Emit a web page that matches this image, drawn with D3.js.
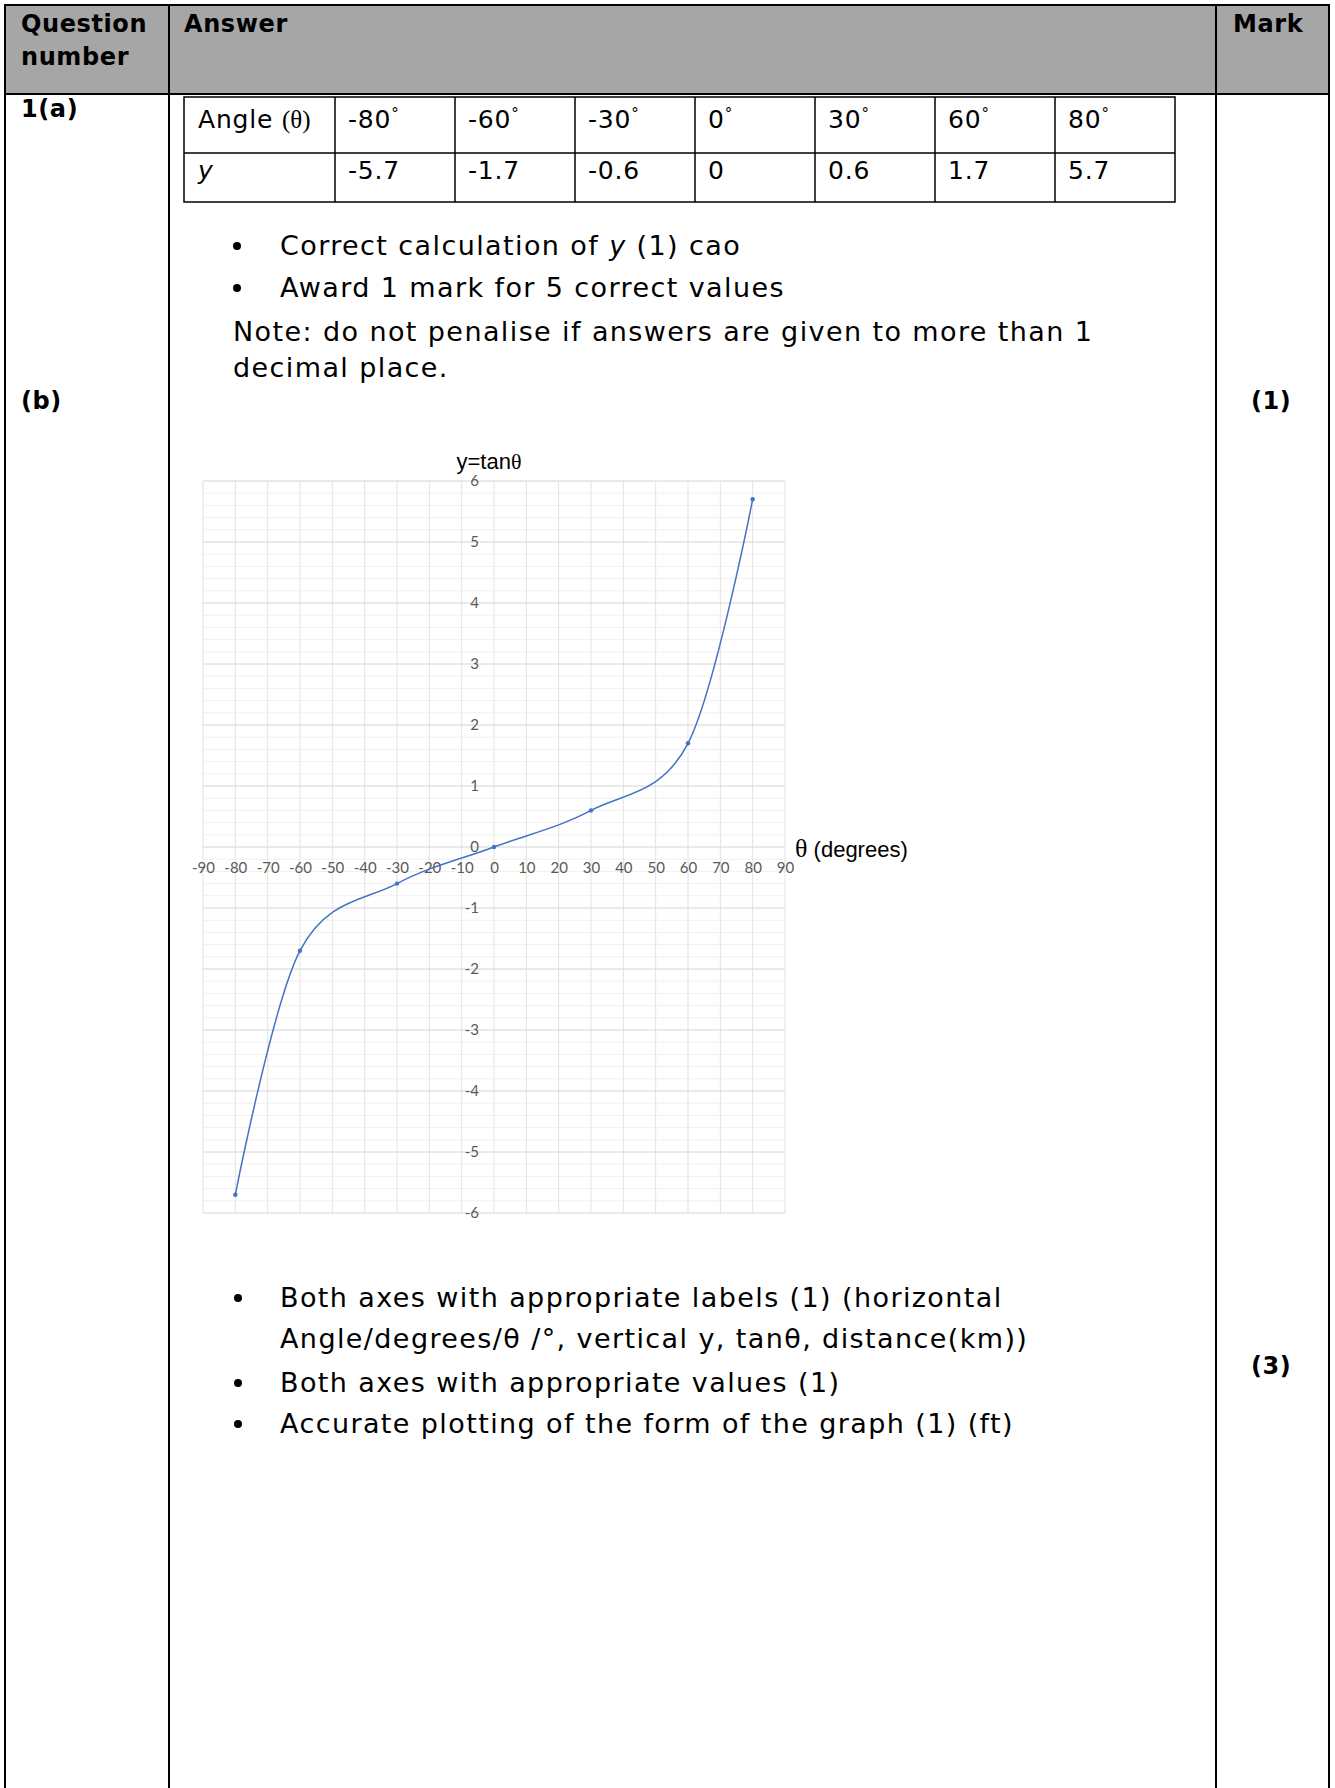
<!DOCTYPE html>
<html>
<head>
<meta charset="utf-8">
<script src="https://cdn.jsdelivr.net/npm/d3@7"></script>
<style>
  body { margin: 0; background: #fff; }
  svg text { font-family: "DejaVu Sans", Verdana, sans-serif; fill: #000; }
  .body { font-size: 27px; letter-spacing: 1.4px; }
  .cell { font-size: 25px; letter-spacing: 0.8px; }
  .bold { font-weight: bold; font-size: 24px; letter-spacing: 0.6px; }
  .tick text { font-family: Lato, "Open Sans", sans-serif; font-size: 15px; fill: #595959; }
</style>
</head>
<body>
<div id="page"></div>
<script>
// table + graph data
const angles = [-80, -60, -30, 0, 30, 60, 80];
const yValues = [-5.7, -1.7, -0.6, 0, 0.6, 1.7, 5.7];
const xTicks = d3.range(-90, 91, 10);
const yTicks = d3.range(-6, 7, 1);

const W = 1335, H = 1788;
const svg = d3.select("#page").append("svg")
    .attr("width", W).attr("height", H);

// ---- outer mark-scheme table ----
const colX = [5, 169, 1216, 1329];
svg.append("rect")
    .attr("x", colX[0]).attr("y", 5)
    .attr("width", colX[3] - colX[0]).attr("height", 89)
    .attr("fill", "#a6a6a6");

svg.append("line").attr("x1", colX[0] - 1).attr("x2", colX[3] + 1)
    .attr("y1", 5).attr("y2", 5).attr("stroke", "#000").attr("stroke-width", 2);
svg.append("line").attr("x1", colX[0]).attr("x2", colX[3])
    .attr("y1", 94).attr("y2", 94).attr("stroke", "#000").attr("stroke-width", 2);
colX.forEach(x => {
    svg.append("line").attr("x1", x).attr("x2", x)
        .attr("y1", 4).attr("y2", H).attr("stroke", "#000").attr("stroke-width", 2);
});

function txt(x, y, s, cls) {
    return svg.append("text").attr("x", x).attr("y", y).attr("class", cls || "body").text(s);
}

// header
txt(21, 32, "Question", "bold");
txt(21, 65, "number", "bold");
txt(184, 32, "Answer", "bold");
txt(1233, 32, "Mark", "bold");

// question numbers + marks
txt(21, 117, "1(a)", "bold");
txt(21, 409, "(b)", "bold");
txt(1251, 409, "(1)", "bold");
txt(1251, 1374, "(3)", "bold");

// ---- 1(a) values table ----
const cellX = [184, 335, 455, 575, 695, 815, 935, 1055, 1175];
const rowY = [97, 153, 202];
const t = svg.append("g");
t.append("rect").attr("x", cellX[0]).attr("y", rowY[0])
    .attr("width", cellX[8] - cellX[0]).attr("height", rowY[2] - rowY[0])
    .attr("fill", "none").attr("stroke", "#000").attr("stroke-width", 1.5);
t.append("line").attr("x1", cellX[0]).attr("x2", cellX[8])
    .attr("y1", rowY[1]).attr("y2", rowY[1]).attr("stroke", "#000").attr("stroke-width", 1.5);
cellX.slice(1, 8).forEach(x => {
    t.append("line").attr("x1", x).attr("x2", x).attr("y1", rowY[0]).attr("y2", rowY[2])
        .attr("stroke", "#000").attr("stroke-width", 1.5);
});

const angleLbl = txt(cellX[0] + 14, 128, "Angle ", "cell");
angleLbl.append("tspan").style("font-family", "'Liberation Serif', serif").style("letter-spacing", "0").text("(θ)");
txt(cellX[0] + 14, 179, "y", "cell").style("font-style", "italic");

angles.forEach((a, i) => {
    const c = txt(cellX[i + 1] + 13, 128, String(a), "cell");
    c.append("tspan").attr("dy", -9).style("font-size", "15px").text("°");
});
yValues.forEach((v, i) => txt(cellX[i + 1] + 13, 179, String(v), "cell"));

// ---- bullets for (a) ----
function bullet(y, parts) {
    svg.append("circle").attr("cx", 237).attr("cy", y - 9).attr("r", 4).attr("fill", "#000");
    const el = txt(280, y, "");
    parts.forEach(p => {
        const ts = el.append("tspan").text(p[0]);
        if (p[1]) ts.style("font-style", "italic");
    });
}
bullet(255, [["Correct calculation of "], ["y", true], [" (1) cao"]]);
bullet(297, [["Award 1 mark for 5 correct values"]]);
txt(233, 341, "Note: do not penalise if answers are given to more than 1");
txt(233, 377, "decimal place.");

// ---- graph y = tan θ ----
const x = d3.scaleLinear().domain([-90, 90]).range([203, 785]);
const y = d3.scaleLinear().domain([-6, 6]).range([1213, 481]);
const g = svg.append("g");

// minor horizontal grid
g.selectAll(".minor").data(d3.range(-30, 31).map(d => d / 5))
    .join("line")
    .attr("x1", x(-90)).attr("x2", x(90))
    .attr("y1", d => y(d)).attr("y2", d => y(d))
    .attr("stroke", "#f0f0f0").attr("stroke-width", 1);
// vertical grid
g.selectAll(".vgrid").data(xTicks)
    .join("line")
    .attr("x1", d => x(d)).attr("x2", d => x(d))
    .attr("y1", y(6)).attr("y2", y(-6))
    .attr("stroke", "#e3e3e3").attr("stroke-width", 1);
// major horizontal grid
g.selectAll(".hgrid").data(yTicks)
    .join("line")
    .attr("x1", x(-90)).attr("x2", x(90))
    .attr("y1", d => y(d)).attr("y2", d => y(d))
    .attr("stroke", "#dcdcdc").attr("stroke-width", 1);

// axes: labels only, grid lines act as axis lines
g.append("g")
    .attr("transform", `translate(0,${y(0)})`)
    .call(d3.axisBottom(x).tickValues(xTicks).tickSize(0).tickPadding(15).tickFormat(d => String(d)))
    .call(s => s.select(".domain").remove());
g.append("g")
    .attr("transform", `translate(${x(0)},0)`)
    .call(d3.axisLeft(y).tickValues(yTicks).tickSize(0).tickPadding(15).tickFormat(d => String(d)))
    .call(s => s.select(".domain").remove());

const pts = angles.map((a, i) => [a, yValues[i]]);
const line = d3.line()
    .x(d => x(d[0])).y(d => y(d[1]))
    .curve(d3.curveCardinal.tension(0));
g.append("path").datum(pts)
    .attr("d", line)
    .attr("fill", "none").attr("stroke", "#4472c4").attr("stroke-width", 1.5);
g.selectAll(".pt").data(pts)
    .join("circle")
    .attr("cx", d => x(d[0])).attr("cy", d => y(d[1]))
    .attr("r", 2.2).attr("fill", "#4472c4");

// chart labels
const title = svg.append("text").attr("x", 489).attr("y", 469)
    .attr("text-anchor", "middle")
    .style("font-family", "'Liberation Sans', Arial, sans-serif").style("font-size", "22px")
    .text("y=tan");
title.append("tspan").style("font-family", "'Liberation Serif', serif").text("θ");

const xl = svg.append("text").attr("x", 795).attr("y", 857)
    .style("font-family", "'Liberation Sans', Arial, sans-serif").style("font-size", "22px");
xl.append("tspan").style("font-family", "'Liberation Serif', serif").style("font-size", "26px").text("θ");
xl.append("tspan").text(" (degrees)");

// ---- bullets for (b) ----
function bullet2(yb, s, withDot) {
    if (withDot) svg.append("circle").attr("cx", 238).attr("cy", yb - 9).attr("r", 4).attr("fill", "#000");
    txt(280, yb, s);
}
bullet2(1307, "Both axes with appropriate labels (1) (horizontal", true);
bullet2(1348, "Angle/degrees/θ /°, vertical y, tanθ, distance(km))", false);
bullet2(1392, "Both axes with appropriate values (1)", true);
bullet2(1433, "Accurate plotting of the form of the graph (1) (ft)", true);
</script>
</body>
</html>
